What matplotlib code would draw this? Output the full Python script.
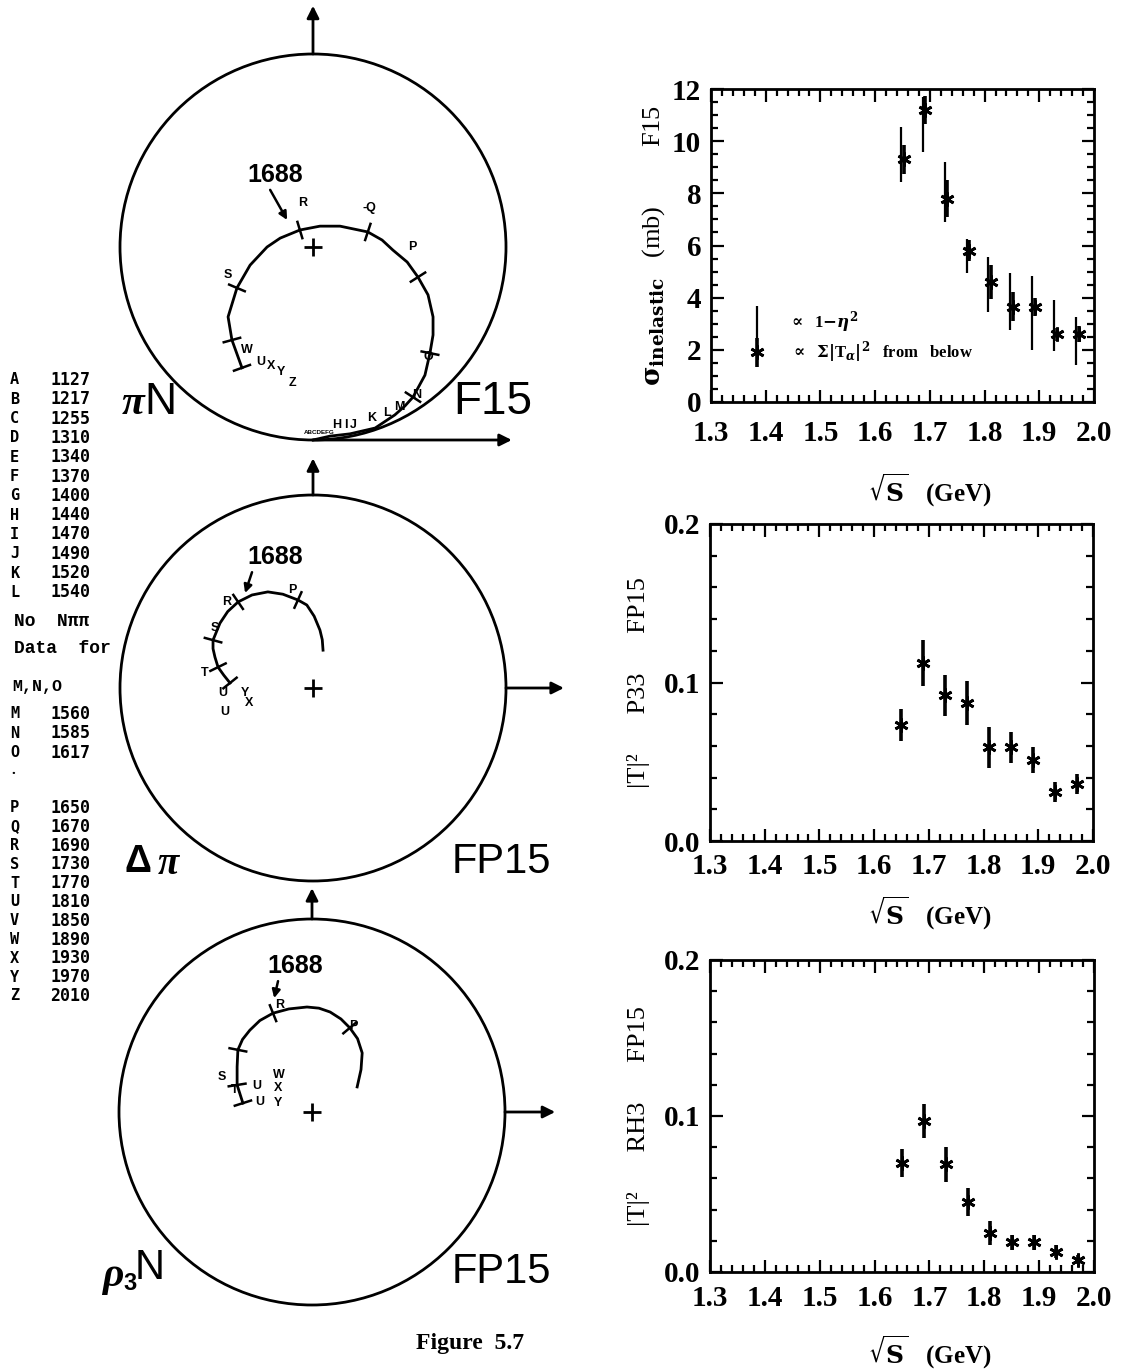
import numpy as np
import matplotlib.pyplot as plt
from matplotlib.patches import Circle
from matplotlib.ticker import MultipleLocator, FormatStrFormatter

W, H = 1124, 1370

# ---- right hand panels: sqrt(s) in GeV ----
energy = [1.65, 1.69, 1.73, 1.77, 1.81, 1.85, 1.89, 1.93, 1.97]

# sigma_inelastic (mb), F15 : from 1-eta^2 and from sum |T_a|^2
sig_eta = [9.5, 10.65, 8.05, 5.6, 4.5, 3.85, 3.4, 2.93, 2.35]
sig_eta_err = [1.05, 1.05, 1.15, 0.65, 1.05, 1.08, 1.42, 0.99, 0.92]
sig_sum = [9.3, 11.2, 7.8, 5.8, 4.6, 3.65, 3.65, 2.6, 2.6]
sig_sum_err = [0.55, 0.55, 0.7, 0.4, 0.65, 0.55, 0.35, 0.25, 0.3]

# |T|^2 for the FP15 channels
p33 = [0.073, 0.112, 0.092, 0.087, 0.059, 0.059, 0.051, 0.031, 0.036]
p33_err = [0.010, 0.0145, 0.013, 0.0137, 0.013, 0.0098, 0.0084, 0.0064, 0.0065]
rh3 = [0.070, 0.097, 0.069, 0.045, 0.025, 0.019, 0.019, 0.013, 0.008]
rh3_err = [0.009, 0.011, 0.011, 0.009, 0.008, 0.005, 0.0046, 0.004, 0.003]

# ---- left list of energies ----
letters_1 = list("ABCDEFGHIJKL")
masses_1 = [1127, 1217, 1255, 1310, 1340, 1370, 1400, 1440, 1470, 1490, 1520, 1540]
letters_2 = ["M", "N", "O"]
masses_2 = [1560, 1585, 1617]
letters_3 = list("PQRSTUVWXYZ")
masses_3 = [1650, 1670, 1690, 1730, 1770, 1810, 1850, 1890, 1930, 1970, 2010]

# ---- Argand trajectories (Re T, Im T) ----
pin_re = [0.0, 0.044, 0.096, 0.161, 0.212, 0.238, 0.259, 0.290, 0.303, 0.311, 0.311, 0.298,
          0.272, 0.244, 0.207, 0.179, 0.142, 0.070, 0.018, -0.034, -0.085, -0.119, -0.163,
          -0.197, -0.220, -0.210, -0.184]
pin_im = [0.0, 0.010, 0.016, 0.031, 0.065, 0.088, 0.111, 0.168, 0.225, 0.272, 0.319, 0.376,
          0.422, 0.461, 0.492, 0.518, 0.539, 0.554, 0.554, 0.544, 0.523, 0.500, 0.453,
          0.394, 0.319, 0.259, 0.187]
pin_marks = [6, 8, 12, 16, 19, 23, 25, 26]

dpi_re = [0.026, 0.024, 0.018, 0.003, -0.016, -0.039, -0.078, -0.117, -0.158, -0.194,
          -0.221, -0.241, -0.259, -0.259, -0.254, -0.246, -0.231, -0.215]
dpi_im = [0.598, 0.625, 0.650, 0.686, 0.715, 0.728, 0.743, 0.749, 0.741, 0.723,
          0.698, 0.668, 0.624, 0.602, 0.580, 0.554, 0.533, 0.513]
dpi_marks = [5, 9, 12, 15, 17]

rho_re = [0.117, 0.127, 0.130, 0.118, 0.098, 0.075, 0.047, 0.018, -0.013, -0.060, -0.101,
          -0.135, -0.161, -0.180, -0.192, -0.194, -0.194, -0.179]
rho_im = [0.565, 0.610, 0.653, 0.690, 0.718, 0.741, 0.759, 0.769, 0.772, 0.767, 0.756,
          0.737, 0.712, 0.688, 0.661, 0.617, 0.570, 0.523]
rho_marks = [4, 10, 14, 16, 17]

plt.rcParams['font.family'] = ['Liberation Serif', 'DejaVu Serif']
plt.rcParams['font.weight'] = 'bold'
plt.rcParams['mathtext.fontset'] = 'dejavuserif'
sans = ['Liberation Sans', 'DejaVu Sans']
mono = ['Liberation Mono', 'DejaVu Sans Mono']

fig = plt.figure(figsize=(W / 100, H / 100), dpi=100)


def ftext(x, y, s, **kw):
    fig.text(x / W, 1 - y / H, s, **kw)


def panel(left, top, right, bottom, ymax, ymaj, ymin, fmt, ylabel, lab_x, xlab_y, xpad):
    ax = fig.add_axes([left / W, 1 - bottom / H, (right - left) / W, (bottom - top) / H])
    ax.set_xlim(1.3, 2.0)
    ax.set_ylim(0, ymax)
    ax.xaxis.set_major_locator(MultipleLocator(0.1))
    ax.xaxis.set_minor_locator(MultipleLocator(0.02))
    ax.yaxis.set_major_locator(MultipleLocator(ymaj))
    ax.yaxis.set_minor_locator(MultipleLocator(ymin))
    ax.xaxis.set_major_formatter(FormatStrFormatter('%.1f'))
    ax.yaxis.set_major_formatter(FormatStrFormatter(fmt))
    ax.tick_params(which='both', direction='in', top=True, right=True, width=1.6)
    ax.tick_params(which='major', length=9, labelsize=21, pad=7)
    ax.tick_params(axis='x', which='major', pad=xpad)
    ax.tick_params(which='minor', length=5)
    for sp in ax.spines.values():
        sp.set_linewidth(2)
    ax.set_ylabel(ylabel, fontsize=19)
    ax.yaxis.set_label_coords((lab_x - left) / (right - left), 0.5)
    ftext(930, xlab_y, r'$\sqrt{\mathbf{S}}$   (GeV)', fontsize=18, ha='center', va='center')
    return ax


# panel 1: sigma inelastic
ax1 = panel(711, 89, 1094, 402, 12, 2, 0.5, '%d',
            r'$\mathbf{\sigma}_{\mathbf{inelastic}}$   (mb)         F15', 667, 490, 13)
ax1.errorbar(np.array(energy) - 0.003, sig_eta, yerr=sig_eta_err, fmt='none',
             ecolor='k', elinewidth=1.6)
ax1.errorbar(np.array(energy) + 0.002, sig_sum, yerr=sig_sum_err, fmt='none',
             ecolor='k', elinewidth=2.6)
ax1.plot(np.array(energy) + 0.002, sig_sum, ls='none', marker=(6, 2, 0),
         ms=10, mew=2, color='k')
# legend
ax1.errorbar([1.384], [3.0], yerr=[0.68], fmt='none', ecolor='k', elinewidth=1.6)
ax1.errorbar([1.384], [1.9], yerr=[0.55], fmt='none', ecolor='k', elinewidth=2.6)
ax1.plot([1.384], [1.9], ls='none', marker=(6, 2, 0), ms=10, mew=2, color='k')
ax1.text(1.44, 3.05, r'$\propto$  1$-\eta^2$', fontsize=12, va='center')
ax1.text(1.445, 1.9, r'$\propto$  $\Sigma|$T$_\alpha|^2$   from   below', fontsize=12, va='center')

# panel 2: P33
ax2 = panel(710, 524, 1093, 841, 0.2, 0.1, 0.02, '%.1f', '|T|²      P33      FP15', 650, 913, 9)
ax2.errorbar(energy, p33, yerr=p33_err, fmt='none', ecolor='k', elinewidth=2.6)
ax2.plot(energy, p33, ls='none', marker=(6, 2, 0), ms=10, mew=2, color='k')

# panel 3: RH3
ax3 = panel(710, 960, 1094, 1272, 0.2, 0.1, 0.02, '%.1f', '|T|²      RH3      FP15', 650, 1352, 9)
ax3.errorbar(energy, rh3, yerr=rh3_err, fmt='none', ecolor='k', elinewidth=2.6)
ax3.plot(energy, rh3, ls='none', marker=(6, 2, 0), ms=10, mew=2, color='k')

ftext(470, 1343, 'Figure  5.7', fontsize=17, ha='center', va='center')

# ---- left list ----
for i, (l, m) in enumerate(zip(letters_1, masses_1)):
    y = 380 + i * 19.3
    ftext(10, y, l, fontsize=11, family='DejaVu Sans Mono', va='center')
    ftext(50, y, str(m), fontsize=12, family='DejaVu Sans Mono', va='center')
ftext(14, 621, 'No  Nππ', fontsize=13, family=mono, va='center')
ftext(14, 648, 'Data  for', fontsize=13, family=mono, va='center')
ftext(12, 686, 'M,N,O', fontsize=12, family=mono, va='center')
for i, (l, m) in enumerate(zip(letters_2, masses_2)):
    y = 714 + i * 19.3
    ftext(10, y, l, fontsize=11, family='DejaVu Sans Mono', va='center')
    ftext(50, y, str(m), fontsize=12, family='DejaVu Sans Mono', va='center')
ftext(11, 770, '.', fontsize=11, va='center')
for i, (l, m) in enumerate(zip(letters_3, masses_3)):
    y = 808 + i * 18.8
    ftext(10, y, l, fontsize=11, family='DejaVu Sans Mono', va='center')
    ftext(50, y, str(m), fontsize=12, family='DejaVu Sans Mono', va='center')


# ---- Argand diagrams ----
S = 386.0


def argand(cx, cy):
    x0, x1 = 90, 590
    y0, y1 = cy - 250, cy + 250
    ax = fig.add_axes([x0 / W, 1 - y1 / H, (x1 - x0) / W, (y1 - y0) / H])
    ax.set_xlim((x0 - cx) / S, (x1 - cx) / S)
    ax.set_ylim(0.5 - (y1 - cy) / S, 0.5 + (cy - y0) / S)
    ax.axis('off')
    ax.add_patch(Circle((0, 0.5), 0.5, fill=False, lw=2, color='k'))
    ax.plot(0, 0.5, marker='+', ms=13, mew=2, color='k')
    return ax


def arrow(ax, start, end, lw=2, head=18):
    ax.annotate('', xy=end, xytext=start,
                arrowprops=dict(arrowstyle='-|>', color='k', lw=lw,
                                mutation_scale=head, shrinkA=0, shrinkB=0))


def trajectory(ax, re, im, marks):
    re = np.array(re)
    im = np.array(im)
    ax.plot(re, im, color='k', lw=2, solid_joinstyle='round')
    for i in marks:
        a = max(i - 1, 0)
        b = min(i + 1, len(re) - 1)
        t = np.array([re[b] - re[a], im[b] - im[a]])
        n = np.array([-t[1], t[0]]) / np.hypot(*t) * 0.022
        ax.plot([re[i] - n[0], re[i] + n[0]], [im[i] - n[1], im[i] + n[1]], color='k', lw=1.8)


def small(ax, x, y, s, size=9):
    ax.text(x, y, s, fontsize=size, family=sans, weight='bold', ha='center', va='center')


# pi N  F15
a1 = argand(313, 247)
arrow(a1, (0, 1.0), (0, 1.125))
arrow(a1, (0.0, 0.0), (0.515, 0.0))
trajectory(a1, pin_re, pin_im, pin_marks)
a1.text(-0.098, 0.687, '1688', fontsize=18, family=sans, ha='center', va='center')
arrow(a1, (-0.111, 0.648), (-0.067, 0.570), lw=1.8, head=12)
for s, x, y in [('R', -0.026, 0.614), ('-Q', 0.145, 0.601), ('P', 0.256, 0.50), ('S', -0.220, 0.427),
                ('O', 0.298, 0.215), ('W', -0.171, 0.233), ('U', -0.135, 0.202), ('X', -0.109, 0.192),
                ('Y', -0.083, 0.176), ('Z', -0.052, 0.148), ('H', 0.062, 0.038), ('I', 0.084, 0.038),
                ('J', 0.105, 0.038), ('K', 0.153, 0.057), ('L', 0.192, 0.070), ('M', 0.225, 0.085),
                ('N', 0.269, 0.117)]:
    small(a1, x, y, s)
a1.text(0.016, 0.020, 'ABCDEFG', fontsize=4.5, family=sans, weight='bold', ha='center', va='center')

# Delta pi  FP15
a2 = argand(313, 688)
arrow(a2, (0, 1.0), (0, 1.095))
arrow(a2, (0.5, 0.5), (0.65, 0.5))
trajectory(a2, dpi_re, dpi_im, dpi_marks)
a2.text(-0.098, 0.839, '1688', fontsize=18, family=sans, ha='center', va='center')
arrow(a2, (-0.158, 0.80), (-0.176, 0.746), lw=1.8, head=12)
for s, x, y in [('P', -0.054, 0.754), ('R', -0.223, 0.723), ('S', -0.254, 0.655), ('T', -0.280, 0.539),
                ('U', -0.233, 0.487), ('U', -0.228, 0.438), ('Y', -0.176, 0.487), ('X', -0.166, 0.461)]:
    small(a2, x, y, s)

# rho3 N  FP15
a3 = argand(312, 1112)
arrow(a3, (0, 1.0), (0, 1.08))
arrow(a3, (0.5, 0.5), (0.63, 0.5))
trajectory(a3, rho_re, rho_im, rho_marks)
a3.text(-0.044, 0.878, '1688', fontsize=18, family=sans, ha='center', va='center')
arrow(a3, (-0.088, 0.839), (-0.098, 0.795), lw=1.8, head=12)
for s, x, y in [('R', -0.085, 0.776), ('P', 0.108, 0.723), ('S', -0.233, 0.591), ('T', -0.199, 0.557),
                ('U', -0.142, 0.567), ('U', -0.135, 0.526), ('W', -0.085, 0.596), ('X', -0.088, 0.562),
                ('Y', -0.088, 0.523)]:
    small(a3, x, y, s)

# channel names
ftext(122, 404, 'π', fontsize=30, style='italic', va='center')
ftext(144, 402, 'N', fontsize=32, family=sans, weight='normal', va='center')
ftext(453, 402, 'F15', fontsize=33, family=sans, weight='normal', va='center')
ftext(125, 862, 'Δ', fontsize=27, family=sans, va='center')
ftext(158, 865, 'π', fontsize=28, style='italic', va='center')
ftext(452, 862, 'FP15', fontsize=30, family=sans, weight='normal', va='center')
ftext(102, 1276, 'ρ', fontsize=30, style='italic', va='center')
ftext(123, 1284, '3', fontsize=17, family=sans, va='center')
ftext(135, 1268, 'N', fontsize=30, family=sans, weight='normal', va='center')
ftext(452, 1272, 'FP15', fontsize=30, family=sans, weight='normal', va='center')

plt.savefig('out.png', dpi=100)
